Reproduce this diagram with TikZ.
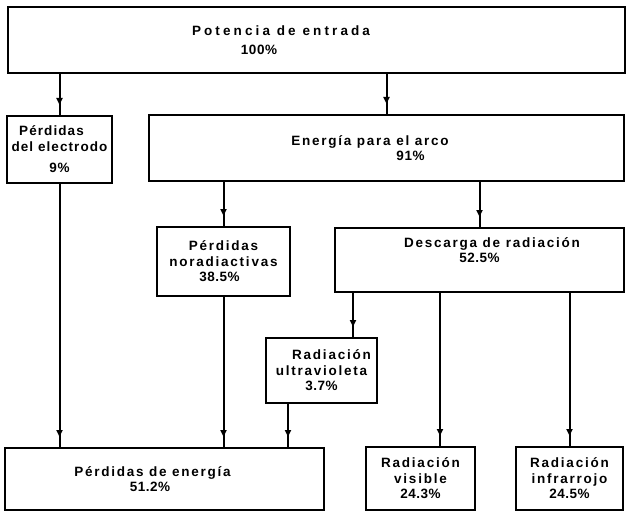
\documentclass[tikz,border=0pt]{standalone}
\usepackage{fontspec}
\setmainfont{Liberation Sans}
\usetikzlibrary{arrows.meta,decorations.markings}
\tikzset{
  arr/.style={line width=2pt, postaction={decorate},
              decoration={markings,
              mark=at position -10pt with {\arrow{Triangle[length=7pt,width=6pt]}}}},
  pbox/.style={draw, line width=2pt, align=center, inner sep=2pt,
               font=\fontsize{13.5}{15.5}\selectfont\bfseries\addfontfeature{LetterSpace=13}},
}
\newcommand{\pct}[1]{{\addfontfeature{LetterSpace=4}#1}}
\begin{document}
\begin{tikzpicture}[x=1pt, y=-1pt]
\useasboundingbox (0,0) rectangle (626,513);
\node[pbox, minimum width=617pt, minimum height=66pt,
      font=\fontsize{13.5}{19}\selectfont\bfseries\addfontfeature{LetterSpace=23}]
      (entrada) at (316,40) {Potencia de entrada\hspace*{70pt}\\\pct{100\%}\hspace*{114pt}};
\node[pbox, minimum width=105pt, minimum height=67pt,
      font=\fontsize{13.5}{16}\selectfont\bfseries\addfontfeature{LetterSpace=8}]
      (electrodo) at (59.5,149.5) {Pérdidas\hspace*{16pt}\\del electrodo\\[5pt]\pct{9\%}};
\node[pbox, minimum width=475pt, minimum height=66pt] (arco) at (386.5,148)
      {Energía para el arco\hspace*{33pt}\\\hspace*{48pt}\pct{91\%}};
\node[pbox, minimum width=133pt, minimum height=69pt] (noradiactivas) at (223.5,261.5)
      {Pérdidas\\noradiactivas\\\pct{38.5\%}\hspace*{8pt}};
\node[pbox, minimum width=289pt, minimum height=64pt] (descarga) at (479.5,260)
      {\hspace*{25pt}Descarga de radiación\\\pct{52.5\%}\hspace*{33pt}\\[0pt]\strut};
\node[pbox, minimum width=111pt, minimum height=65pt] (ultravioleta) at (321.5,370.5)
      {\hspace*{20pt}Radiación\\ultravioleta\\\pct{3.7\%}};
\node[pbox, minimum width=319pt, minimum height=62pt] (perdidas) at (164.5,479)
      {Pérdidas de energía\hspace*{24pt}\\\pct{51.2\%}\hspace*{29pt}};
\node[pbox, minimum width=109pt, minimum height=63pt] (visible) at (420.5,478.5)
      {Radiación\\visible\\\pct{24.3\%}};
\node[pbox, minimum width=107pt, minimum height=63pt] (infrarrojo) at (569.5,478.5)
      {Radiación\\infrarrojo\\\pct{24.5\%}};
% free ends that sit off the box centres
\coordinate (uvin)  at ([xshift=31.5pt]ultravioleta.north);
\coordinate (uvout) at ([xshift=-33.5pt]ultravioleta.south);
\coordinate (visin) at ([xshift=19.5pt]visible.north);
\draw[arr] (entrada.south -| electrodo) -- (electrodo.north);
\draw[arr] (entrada.south -| arco) -- (arco.north);
\draw[arr] (arco.south -| noradiactivas) -- (noradiactivas.north);
\draw[arr] (arco.south -| descarga) -- (descarga.north);
\draw[arr] (descarga.south -| uvin) -- (uvin);
\draw[arr] (descarga.south -| visin) -- (visin);
\draw[arr] (descarga.south -| infrarrojo) -- (infrarrojo.north);
\draw[arr] (electrodo.south) -- (electrodo.south |- perdidas.north);
\draw[arr] (noradiactivas.south) -- (noradiactivas.south |- perdidas.north);
\draw[arr] (uvout) -- (uvout |- perdidas.north);
\end{tikzpicture}
\end{document}
